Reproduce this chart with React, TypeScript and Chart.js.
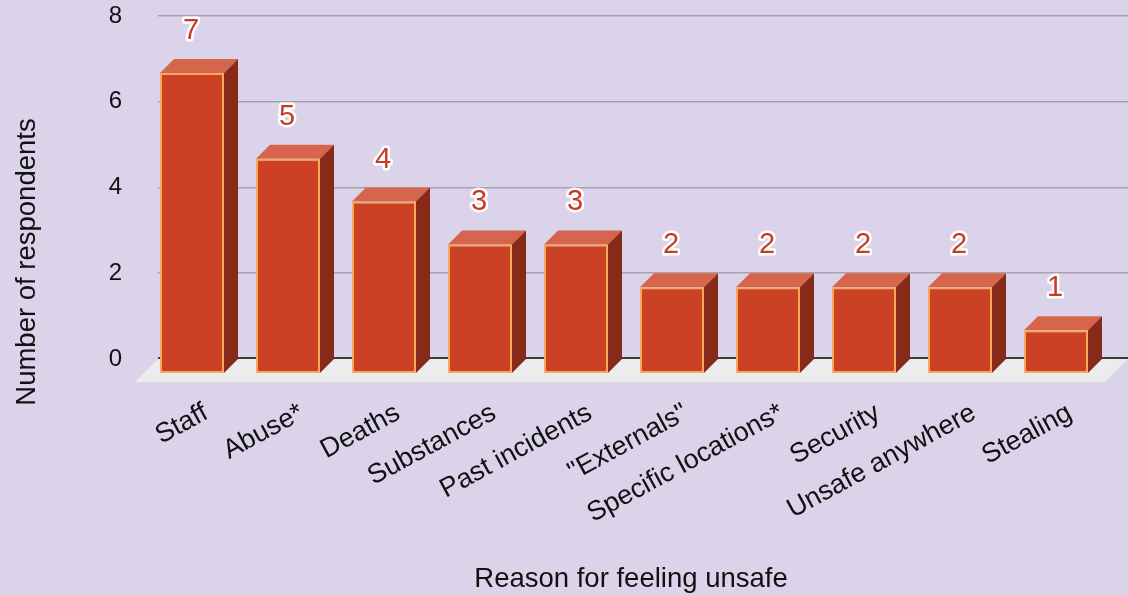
import { useEffect, useRef } from 'react';
import { Chart, registerables } from 'chart.js';

Chart.register(...registerables);

// Survey answers: why respondents feel unsafe
const categories = [
  'Staff',
  'Abuse*',
  'Deaths',
  'Substances',
  'Past incidents',
  '"Externals"',
  'Specific locations*',
  'Security',
  'Unsafe anywhere',
  'Stealing',
];
const respondents = [7, 5, 4, 3, 3, 2, 2, 2, 2, 1];
const yTicks = [0, 2, 4, 6, 8];
const xTitle = 'Reason for feeling unsafe';
const yTitle = 'Number of respondents';

// Canvas and plot geometry (front plane of the bars)
const W = 1128;
const H = 595;
const AREA = { left: 144, right: 1104, top: 13, bottom: 373 };
const Y_MAX = 8.4;
const DEPTH_X = 14;
const DEPTH_Y = 14;
const FLOOR_DEPTH = 23;
const PX_PER_UNIT = (AREA.bottom - AREA.top) / Y_MAX;
const BACK_SHIFT = DEPTH_Y / PX_PER_UNIT;

const FONT = '"Liberation Sans", Arial, sans-serif';
const TEXT = '#111111';
const BG = '#dbd3e9';
const FLOOR = '#ececec';
const FRONT = '#cc4124';
const TOP = '#d6654d';
const SIDE = '#88291a';
const EDGE = '#f8a85e';
const VALUE = '#c63c26';

const backgroundPlugin = {
  id: 'background',
  beforeDraw(chart: any) {
    const { ctx } = chart;
    ctx.save();
    ctx.fillStyle = BG;
    ctx.fillRect(0, 0, chart.width, chart.height);
    ctx.restore();
  },
};

const stagePlugin = {
  id: 'stage',
  beforeDatasetsDraw(chart: any) {
    const { ctx, chartArea } = chart;
    const yb = chart.scales.yb;
    const backLeft = chartArea.left + DEPTH_X;
    const backRight = chart.width;
    const y0 = yb.getPixelForValue(0);
    ctx.save();

    // floor
    ctx.fillStyle = FLOOR;
    ctx.beginPath();
    ctx.moveTo(backLeft, y0);
    ctx.lineTo(backRight, y0);
    ctx.lineTo(backRight - FLOOR_DEPTH, y0 + FLOOR_DEPTH);
    ctx.lineTo(backLeft - FLOOR_DEPTH, y0 + FLOOR_DEPTH);
    ctx.closePath();
    ctx.fill();

    // back-wall grid lines
    yTicks.forEach((v) => {
      if (v === 0) return;
      const y = Math.round(yb.getPixelForValue(v));
      ctx.fillStyle = '#a5a1ab';
      ctx.fillRect(backLeft, y - 1, backRight - backLeft, 1);
      ctx.fillStyle = '#c3bfca';
      ctx.fillRect(backLeft, y, backRight - backLeft, 1);
    });

    // base line
    ctx.fillStyle = '#3a3a3a';
    ctx.fillRect(backLeft, Math.round(y0) - 2, backRight - backLeft, 2);

    // top and side faces of each bar
    const meta = chart.getDatasetMeta(0);
    meta.data.forEach((bar: any) => {
      const { x, y, base, width } = bar.getProps(['x', 'y', 'base', 'width'], true);
      const l = x - width / 2;
      const r = x + width / 2;
      ctx.fillStyle = TOP;
      ctx.beginPath();
      ctx.moveTo(l, y);
      ctx.lineTo(l + DEPTH_X, y - DEPTH_Y);
      ctx.lineTo(r + DEPTH_X, y - DEPTH_Y);
      ctx.lineTo(r, y);
      ctx.closePath();
      ctx.fill();
      ctx.fillStyle = SIDE;
      ctx.beginPath();
      ctx.moveTo(r, y);
      ctx.lineTo(r + DEPTH_X, y - DEPTH_Y);
      ctx.lineTo(r + DEPTH_X, base - DEPTH_Y);
      ctx.lineTo(r, base);
      ctx.closePath();
      ctx.fill();
    });
    ctx.restore();
  },
};

const valueLabelPlugin = {
  id: 'valueLabels',
  afterDatasetsDraw(chart: any) {
    const { ctx } = chart;
    const meta = chart.getDatasetMeta(0);
    ctx.save();
    ctx.font = `29px ${FONT}`;
    ctx.textAlign = 'center';
    ctx.textBaseline = 'middle';
    ctx.lineJoin = 'round';
    ctx.lineWidth = 5;
    ctx.strokeStyle = '#ffffff';
    ctx.fillStyle = VALUE;
    meta.data.forEach((bar: any, i: number) => {
      const { x, y } = bar.getProps(['x', 'y'], true);
      const text = String(respondents[i]);
      const tx = x - 1;
      const ty = y - DEPTH_Y - 28;
      ctx.strokeText(text, tx, ty);
      ctx.fillText(text, tx, ty);
    });
    ctx.restore();
  },
};

const axisTitlePlugin = {
  id: 'axisTitles',
  afterDraw(chart: any) {
    const { ctx } = chart;
    ctx.save();
    ctx.font = `27.5px ${FONT}`;
    ctx.fillStyle = TEXT;
    ctx.textAlign = 'center';
    ctx.textBaseline = 'middle';
    ctx.fillText(xTitle, 631, 579);
    ctx.translate(27, 262);
    ctx.rotate(-Math.PI / 2);
    ctx.fillText(yTitle, 0, 0);
    ctx.restore();
  },
};

export default function App() {
  const canvasRef = useRef<HTMLCanvasElement | null>(null);

  useEffect(() => {
    const canvas = canvasRef.current;
    if (!canvas) return;
    Chart.defaults.font.family = FONT;

    const chart = new Chart(canvas, {
      type: 'bar',
      data: {
        labels: categories,
        datasets: [
          {
            data: respondents,
            backgroundColor: FRONT,
            borderColor: EDGE,
            borderWidth: 2,
            borderSkipped: false,
            barPercentage: 64 / 96,
            categoryPercentage: 1,
            xAxisID: 'x',
            yAxisID: 'y',
          },
        ],
      },
      options: {
        responsive: false,
        animation: false,
        devicePixelRatio: 1,
        layout: { padding: { top: AREA.top, right: W - AREA.right, left: 0, bottom: 0 } },
        plugins: {
          legend: { display: false },
          tooltip: { enabled: false },
        },
        scales: {
          x: {
            type: 'category',
            offset: true,
            grid: { display: false },
            border: { display: false },
            afterFit: (s: any) => {
              s.height = H - AREA.bottom;
              s.paddingLeft = 0;
              s.paddingRight = 0;
            },
            ticks: {
              autoSkip: false,
              minRotation: 28.5,
              maxRotation: 28.5,
              padding: 16,
              labelOffset: 14,
              color: TEXT,
              font: { size: 27, family: FONT },
            },
          },
          y: { type: 'linear', display: false, min: 0, max: Y_MAX },
          yb: {
            type: 'linear',
            position: 'left',
            min: -BACK_SHIFT,
            max: Y_MAX - BACK_SHIFT,
            grid: { display: false },
            border: { display: false },
            afterBuildTicks: (s: any) => {
              s.ticks = yTicks.map((v) => ({ value: v }));
            },
            afterFit: (s: any) => {
              s.width = AREA.left;
              s.paddingTop = 0;
              s.paddingBottom = 0;
            },
            ticks: {
              padding: 14,
              color: TEXT,
              font: { size: 24, family: FONT },
            },
          },
        },
      } as any,
      plugins: [backgroundPlugin, stagePlugin, valueLabelPlugin, axisTitlePlugin],
    });

    return () => chart.destroy();
  }, []);

  return (
    <div style={{ position: 'absolute', left: 0, top: 0, width: W, height: H }}>
      <canvas ref={canvasRef} width={W} height={H} style={{ display: 'block' }} />
    </div>
  );
}
